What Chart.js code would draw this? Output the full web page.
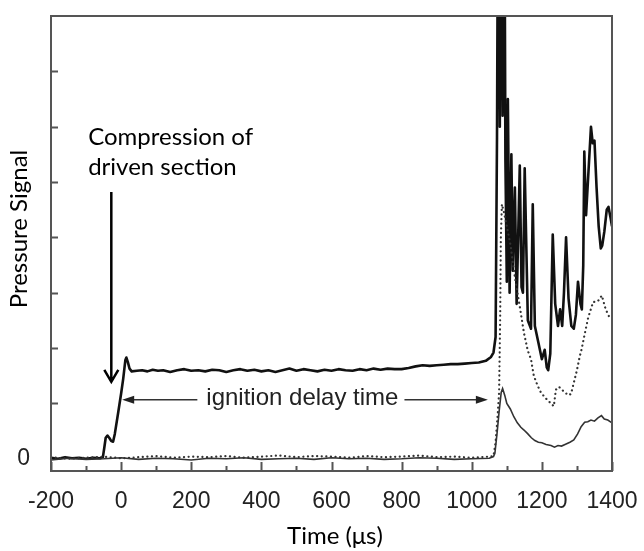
<!DOCTYPE html>
<html>
<head>
<meta charset="utf-8">
<script src="https://cdn.jsdelivr.net/npm/chart.js@4.4.1/dist/chart.umd.min.js"></script>
<style>
  html, body { margin: 0; padding: 0; background: #fff; }
  #wrap { width: 644px; height: 551px; }
</style>
</head>
<body>
<div id="wrap"><canvas id="chart" width="644" height="551"></canvas></div>
<script>
// x tick labels
const xTickLabels = [-200, 0, 200, 400, 600, 800, 1000, 1200, 1400];

// thick trace (driven section pressure)
const thickT = [-200, -180, -160, -140, -120, -100, -80, -60, -52, -48, -44, -39, -34, -28, -23, -18, -8, 0, 6, 12, 15, 19, 24, 30,
  45, 60, 75, 90, 105, 120, 140, 160, 180, 200, 220, 240, 260, 280, 300, 320, 340, 360, 380, 400, 420, 440, 460, 480, 500,
  520, 540, 560, 580, 600, 620, 640, 660, 680, 700, 720, 740, 760, 780, 800, 820, 840, 860, 880, 900, 920, 940, 960, 980,
  1000, 1020, 1040, 1055, 1062, 1068,
  1072, 1074, 1076, 1078, 1080, 1082, 1084, 1086, 1088, 1090, 1092, 1094, 1096,
  1100, 1103, 1108, 1113, 1117, 1123, 1128, 1137, 1142, 1146, 1151, 1160, 1169,
  1174, 1180, 1190, 1200, 1208, 1214, 1218, 1224, 1231, 1238, 1246, 1252, 1258, 1263, 1269, 1276, 1284, 1291, 1297, 1303,
  1310, 1314, 1318, 1321, 1326, 1333, 1340, 1345, 1350, 1356, 1362, 1368, 1372, 1378, 1385, 1390, 1396, 1400];
const thickV = [0.02, 0.0, 0.03, 0.01, 0.02, 0.0, 0.02, 0.01, 0.03, 0.2, 0.38, 0.42, 0.38, 0.32, 0.31, 0.45, 0.85, 1.18, 1.45, 1.78, 1.83, 1.75, 1.63, 1.58,
  1.59, 1.6, 1.58, 1.61, 1.59, 1.6, 1.57, 1.6, 1.62, 1.59, 1.6, 1.58, 1.61, 1.6, 1.57, 1.6, 1.62, 1.59, 1.61, 1.58, 1.6, 1.57, 1.6, 1.63, 1.59,
  1.62, 1.6, 1.58, 1.61, 1.59, 1.62, 1.6, 1.59, 1.62, 1.6, 1.63, 1.61, 1.63, 1.62, 1.62, 1.64, 1.67, 1.69, 1.68, 1.69, 1.7, 1.71, 1.71, 1.72,
  1.73, 1.74, 1.77, 1.84, 1.92, 2.2,
  5.8, 9, 6.5, 9, 6.0, 9, 6.8, 9, 6.2, 9, 7.0, 9, 5.4,
  3.2, 6.5, 3.0, 5.5, 3.4, 4.9, 2.8, 5.3, 3.1, 3.0, 5.25, 2.5, 2.35,
  4.6, 2.4, 2.1, 1.8, 1.97, 1.65, 1.6, 1.9, 4.05, 2.8, 2.4, 2.7, 2.4, 3.0, 4.0, 2.9, 2.4, 2.35, 2.6, 3.2,
  2.8, 2.7, 3.5, 5.55, 4.4, 5.2, 6.0, 5.7, 5.75, 4.9, 4.2, 3.8, 3.85, 4.1, 4.5, 4.55, 4.35, 4.2];

// dotted trace
const dotT = [-200, -150, -100, -50, 0, 50, 100, 150, 200, 250, 300, 350, 400, 450, 500, 550, 600, 650, 700, 750, 800, 850, 900, 950, 1000, 1050,
  1062, 1068, 1074, 1078, 1081, 1083, 1086, 1092, 1100, 1111, 1117, 1125, 1137, 1149, 1160, 1169, 1177, 1188, 1197, 1210, 1226, 1234,
  1240, 1249, 1262, 1275, 1283, 1292, 1300, 1308, 1314, 1322, 1332, 1346, 1360, 1371, 1382, 1391, 1400];
const dotV = [0.03, 0.0, 0.02, 0.04, 0.01, 0.03, 0.05, 0.02, 0.04, 0.03, 0.05, 0.02, 0.04, 0.06, 0.03, 0.05, 0.04, 0.02, 0.05, 0.03, 0.04, 0.06, 0.03, 0.04, 0.02, 0.04,
  0.05, 0.3, 0.8, 1.2, 2.5, 4.0, 4.6, 4.45, 4.2, 3.85, 3.55, 3.2, 2.75, 2.27, 1.95, 1.8, 1.5, 1.32, 1.2, 1.1, 1.0, 0.95,
  1.25, 1.3, 1.22, 1.15, 1.17, 1.4, 1.6, 1.85, 2.0, 2.25, 2.55, 2.83, 2.85, 2.95, 2.7, 2.58, 2.55];

// thin solid trace
const thinT = [-200, -150, -100, -50, 0, 50, 100, 150, 200, 250, 300, 350, 400, 450, 500, 550, 600, 650, 700, 750, 800, 850, 900, 950, 1000, 1050,
  1062, 1066, 1072, 1078, 1084, 1088, 1094, 1100, 1110, 1120, 1130, 1140, 1149, 1160, 1170, 1180, 1190, 1200, 1212, 1226, 1236, 1246,
  1256, 1266, 1280, 1291, 1302, 1312, 1322, 1331, 1340, 1350, 1360, 1370, 1378, 1388, 1400];
const thinV = [-0.02, 0.01, -0.01, 0.0, 0.02, -0.01, 0.01, 0.0, -0.02, 0.01, 0.0, 0.02, -0.01, 0.0, 0.01, -0.01, 0.02, 0.0, 0.01, -0.01, 0.0, 0.02, 0.01, -0.01, 0.0, 0.01,
  0.04, 0.1, 0.45, 0.85, 1.2, 1.27, 1.15, 1.0, 0.9, 0.76, 0.65, 0.57, 0.52, 0.45, 0.38, 0.33, 0.3, 0.29, 0.26, 0.24, 0.21, 0.24,
  0.23, 0.26, 0.3, 0.34, 0.45, 0.58, 0.66, 0.67, 0.7, 0.68, 0.74, 0.78, 0.72, 0.7, 0.65];

const toPts = (t, v) => t.map((x, i) => ({ x: x, y: v[i] }));

// annotation anchors (data units)
const compressX = -28, compressTop = 4.82, compressTip = 1.39;
const delayStart = 3, delayEnd = 1046, delayY = 1.065;

const calibri = "Lato, 'Noto Sans', sans-serif";
const arial = "'Liberation Sans', Arial, sans-serif";

const decor = {
  id: "decor",
  afterDatasetsDraw(chart) {
    const ctx = chart.ctx;
    const a = chart.chartArea;
    const xs = chart.scales.x, ys = chart.scales.y;
    ctx.save();

    // frame
    ctx.strokeStyle = "#555";
    ctx.lineWidth = 2;
    ctx.strokeRect(a.left, a.top, a.right - a.left, a.bottom - a.top);

    // inward ticks
    ctx.beginPath();
    for (let v = -200; v <= 1400; v += 100) {
      const px = Math.round(xs.getPixelForValue(v)) + 0.5;
      const len = v % 200 === 0 ? 9 : 5;
      ctx.moveTo(px, a.bottom);
      ctx.lineTo(px, a.bottom - len);
    }
    for (let v = 1; v <= 7; v++) {
      const py = Math.round(ys.getPixelForValue(v)) + 0.5;
      ctx.moveTo(a.left, py);
      ctx.lineTo(a.left + 7, py);
    }
    ctx.stroke();

    // compression arrow
    const cx = xs.getPixelForValue(compressX);
    const cTop = ys.getPixelForValue(compressTop);
    const cTip = ys.getPixelForValue(compressTip);
    ctx.strokeStyle = "#000";
    ctx.lineWidth = 2.5;
    ctx.beginPath();
    ctx.moveTo(cx, cTop);
    ctx.lineTo(cx, cTip - 1);
    ctx.moveTo(cx - 7, cTip - 12);
    ctx.lineTo(cx, cTip);
    ctx.lineTo(cx + 7, cTip - 12);
    ctx.stroke();

    ctx.fillStyle = "#000";
    ctx.font = "24px " + calibri;
    ctx.textAlign = "left";
    ctx.textBaseline = "alphabetic";
    const tx = xs.getPixelForValue(-94);
    ctx.fillText("Compression of", tx, ys.getPixelForValue(5.67));
    ctx.fillText("driven section", tx, ys.getPixelForValue(5.13));

    // ignition delay arrow
    const dy = ys.getPixelForValue(delayY);
    const d0 = xs.getPixelForValue(delayStart);
    const d1 = xs.getPixelForValue(delayEnd);
    ctx.font = "24px " + arial;
    ctx.fillStyle = "#222";
    const label = "ignition delay time";
    const tw = ctx.measureText(label).width;
    const tcx = xs.getPixelForValue(517);
    ctx.textAlign = "center";
    ctx.textBaseline = "middle";
    ctx.fillText(label, tcx, dy - 1);
    ctx.strokeStyle = "#333";
    ctx.lineWidth = 1.5;
    ctx.beginPath();
    ctx.moveTo(d0 + 8, dy);
    ctx.lineTo(tcx - tw / 2 - 9, dy);
    ctx.moveTo(tcx + tw / 2 + 6, dy);
    ctx.lineTo(d1 - 8, dy);
    ctx.stroke();
    ctx.fillStyle = "#222";
    ctx.beginPath();
    ctx.moveTo(d0, dy);
    ctx.lineTo(d0 + 12, dy - 4);
    ctx.lineTo(d0 + 12, dy + 4);
    ctx.closePath();
    ctx.moveTo(d1, dy);
    ctx.lineTo(d1 - 12, dy - 4);
    ctx.lineTo(d1 - 12, dy + 4);
    ctx.closePath();
    ctx.fill();

    // axis titles
    ctx.fillStyle = "#000";
    ctx.font = "24px " + calibri;
    ctx.textAlign = "center";
    ctx.textBaseline = "middle";
    ctx.fillText("Time (\u03bcs)", 335, 536);
    ctx.save();
    ctx.translate(19, 229);
    ctx.rotate(-Math.PI / 2);
    ctx.fillText("Pressure Signal", 0, 0);
    ctx.restore();

    ctx.restore();
  }
};

new Chart(document.getElementById("chart"), {
  type: "line",
  data: {
    datasets: [
      {
        data: toPts(thinT, thinV),
        borderColor: "#333",
        borderWidth: 1.6,
        pointRadius: 0,
        tension: 0
      },
      {
        data: toPts(dotT, dotV),
        borderColor: "#333",
        borderWidth: 2.2,
        borderDash: [0.1, 4.5],
        borderCapStyle: "round",
        pointRadius: 0,
        tension: 0
      },
      {
        data: toPts(thickT, thickV),
        borderColor: "#111",
        borderWidth: 2.6,
        borderJoinStyle: "round",
        pointRadius: 0,
        tension: 0
      }
    ]
  },
  options: {
    responsive: false,
    animation: false,
    events: [],
    layout: { padding: { top: 16, right: 32, left: 0, bottom: 0 } },
    plugins: { legend: { display: false }, tooltip: { enabled: false } },
    scales: {
      x: {
        type: "linear",
        min: -200,
        max: 1400,
        grid: { display: false },
        border: { display: false },
        afterBuildTicks: s => { s.ticks = xTickLabels.map(v => ({ value: v })); },
        afterFit: s => { s.height = 80; s.paddingLeft = 0; s.paddingRight = 0; },
        ticks: {
          color: "#222",
          font: { family: arial, size: 23 },
          padding: 9,
          maxRotation: 0,
          autoSkip: false,
          callback: v => String(v)
        }
      },
      y: {
        min: -0.22,
        max: 8,
        grid: { display: false },
        border: { display: false },
        afterBuildTicks: s => { s.ticks = [{ value: 0 }]; },
        afterFit: s => { s.width = 51; s.paddingTop = 0; s.paddingBottom = 0; },
        ticks: {
          color: "#222",
          font: { family: arial, size: 23 },
          padding: 13,
          callback: v => (v === 0 ? "0" : "")
        }
      }
    }
  },
  plugins: [decor]
});
</script>
</body>
</html>
